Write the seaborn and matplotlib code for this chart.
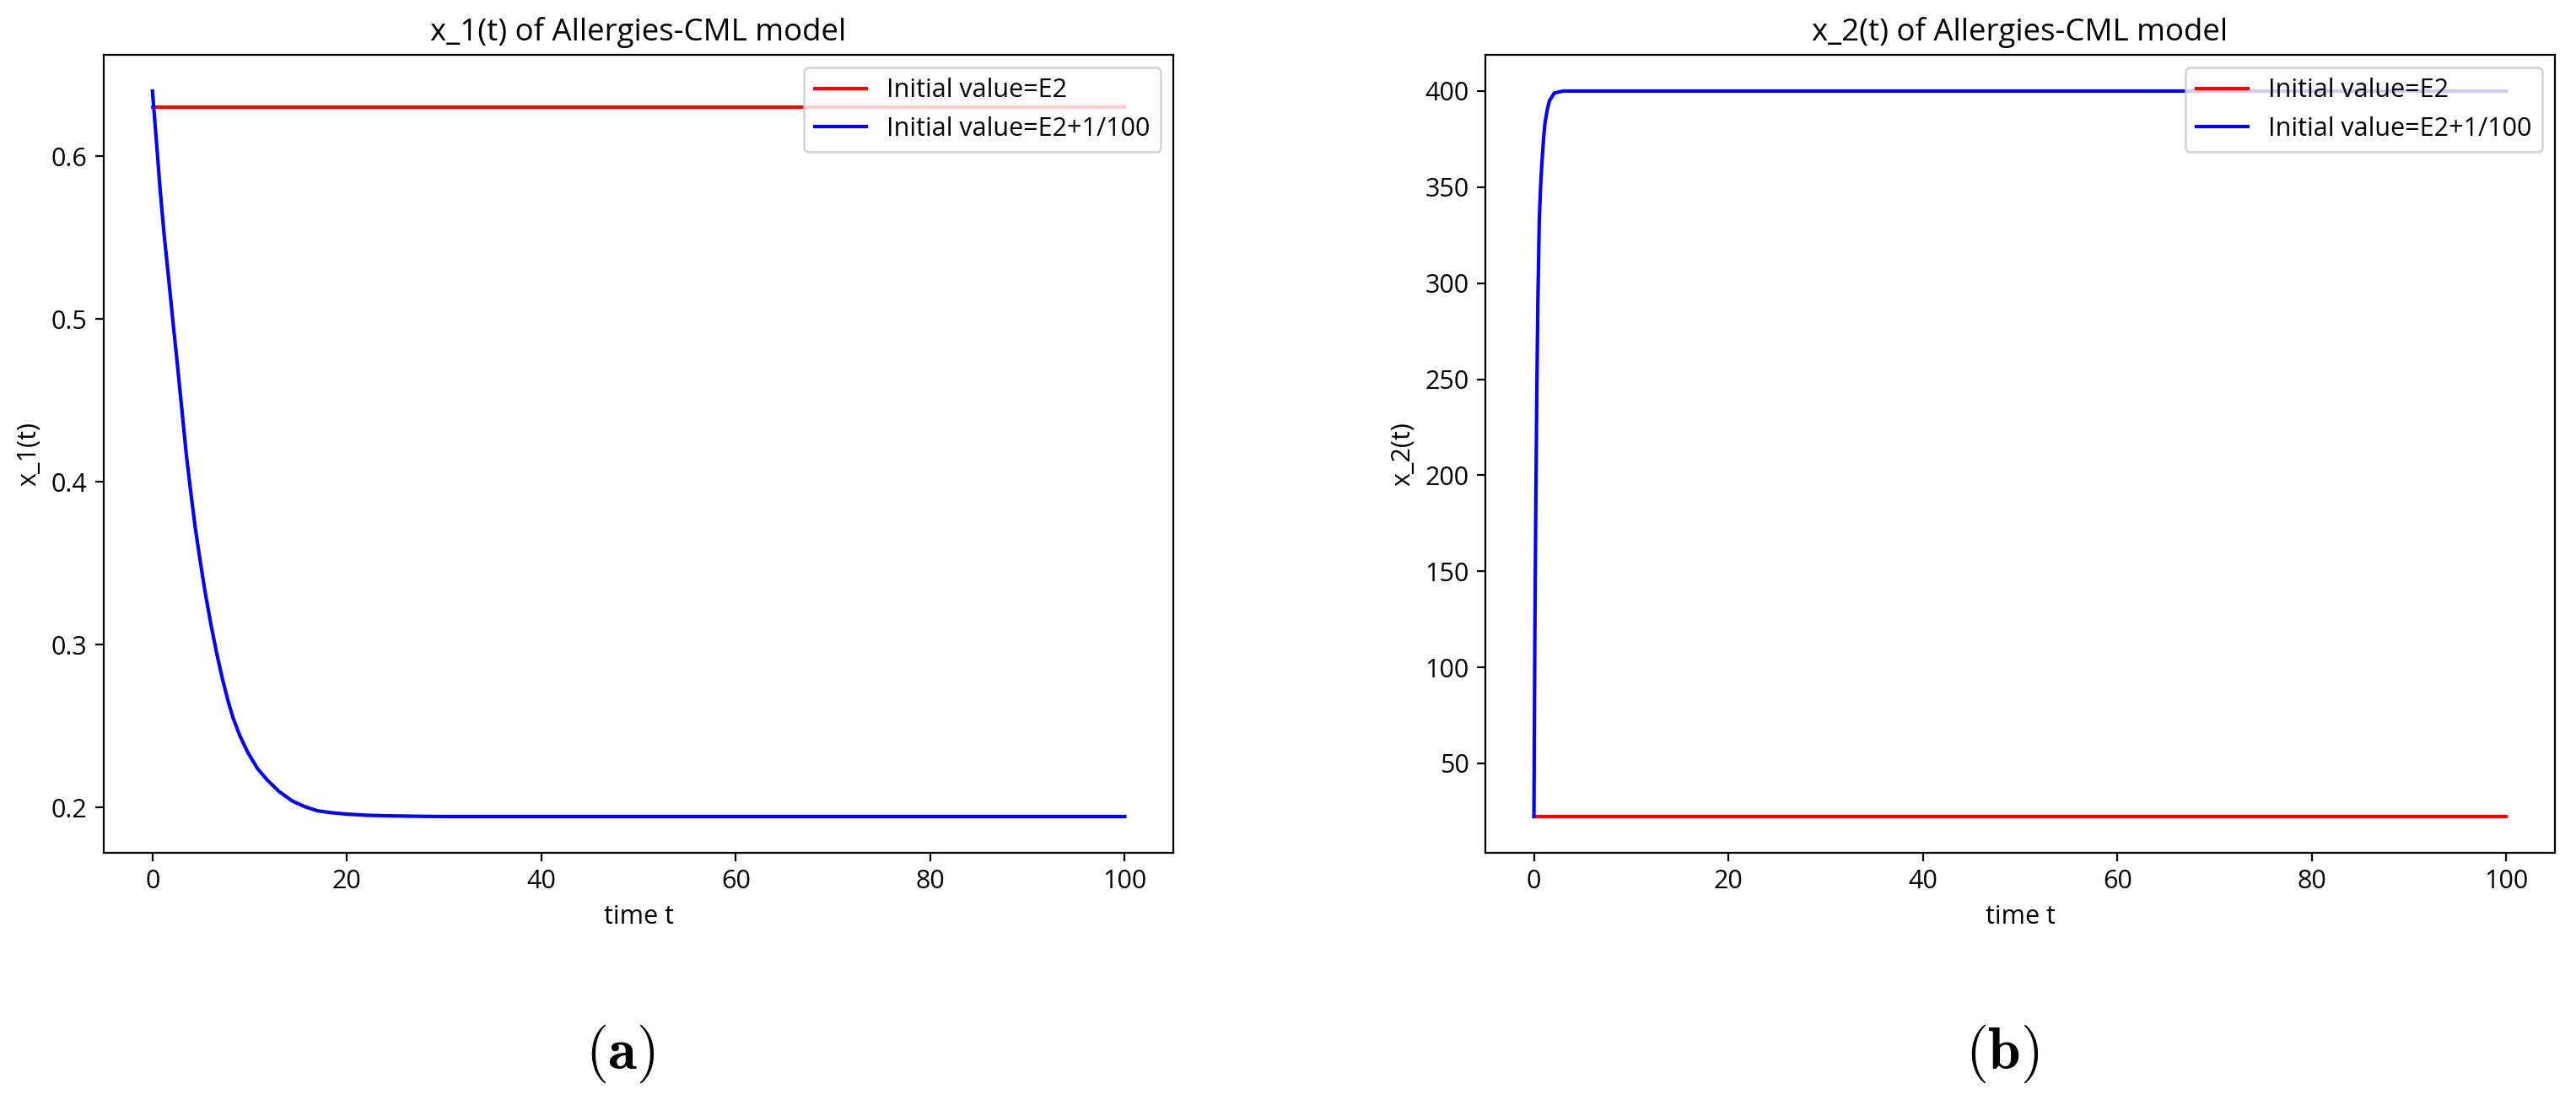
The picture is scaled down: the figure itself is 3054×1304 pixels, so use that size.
import matplotlib
matplotlib.use("Agg")
import matplotlib.pyplot as plt
import pandas as pd
import seaborn as sns

# Values
t_flat = [0, 100]
x1_e2 = [0.630, 0.630]
x2_e2 = [22.3, 22.3]

t_x1 = [0, 0.4, 0.8, 1.2, 1.7, 2.1, 2.5, 3.0, 3.5, 4.0, 4.4, 4.9, 5.4, 6.0, 6.6, 7.2,
        7.8, 8.3, 9.0, 9.8, 10.8, 11.8, 13.0, 14.4, 15.7, 17, 18.5, 20, 22, 24, 27, 30, 100]
x1_pert = [0.640, 0.610, 0.579, 0.552, 0.523, 0.499, 0.476, 0.446, 0.416, 0.391, 0.372,
           0.352, 0.333, 0.313, 0.295, 0.279, 0.265, 0.255, 0.244, 0.234, 0.224, 0.217,
           0.210, 0.204, 0.2005, 0.198, 0.1968, 0.196, 0.1953, 0.195, 0.1947, 0.1945, 0.1945]

t_x2 = [0, 0.05, 0.1, 0.2, 0.3, 0.4, 0.55, 0.7, 0.85, 1.0, 1.15, 1.4, 1.6, 2.1, 3.0, 100]
x2_pert = [22.3, 75, 120, 190, 245, 289, 333, 352, 365, 376, 384, 391, 395, 399, 400, 400]

labels = ["Initial value=E2", "Initial value=E2+1/100"]
titles = ["x_1(t) of Allergies-CML model", "x_2(t) of Allergies-CML model"]
ylabels = ["x_1(t)", "x_2(t)"]
panel_tags = ["(a)", "(b)"]

plt.rcParams["font.family"] = ["Open Sans", "DejaVu Sans"]
plt.rcParams["font.size"] = 11
plt.rcParams["mathtext.fontset"] = "cm"


def draw_panel(ax, t_red, y_red, t_blue, y_blue, title, ylabel):
    """Draw one trajectory panel: equilibrium (red) and perturbed start (blue)."""
    red = pd.DataFrame({"t": t_red, "y": y_red})
    blue = pd.DataFrame({"t": t_blue, "y": y_blue})
    sns.lineplot(data=red, x="t", y="y", color="red", label=labels[0], ax=ax)
    sns.lineplot(data=blue, x="t", y="y", color="blue", label=labels[1], ax=ax)
    ax.set_title(title)
    ax.set_xlabel("time t")
    ax.set_ylabel(ylabel)
    ax.set_xticks([0, 20, 40, 60, 80, 100])
    ax.legend(loc="upper right")


fig = plt.figure(figsize=(15.27, 6.52), dpi=200)
ax1 = fig.add_axes([0.0403, 0.2247, 0.4152, 0.7255])
ax2 = fig.add_axes([0.5766, 0.2247, 0.4152, 0.7255])

draw_panel(ax1, t_flat, x1_e2, t_x1, x1_pert, titles[0], ylabels[0])
draw_panel(ax2, t_flat, x2_e2, t_x2, x2_pert, titles[1], ylabels[1])

# sub-figure tags under each panel
for ax, tag in zip([ax1, ax2], panel_tags):
    box = ax.get_position()
    xc = box.x0 + box.width / 2 - 0.007
    fig.text(xc, 0.042, r"$\mathbf{" + tag + "}$", ha="center", va="center", fontsize=25)

fig.savefig("out.png", dpi=200)
